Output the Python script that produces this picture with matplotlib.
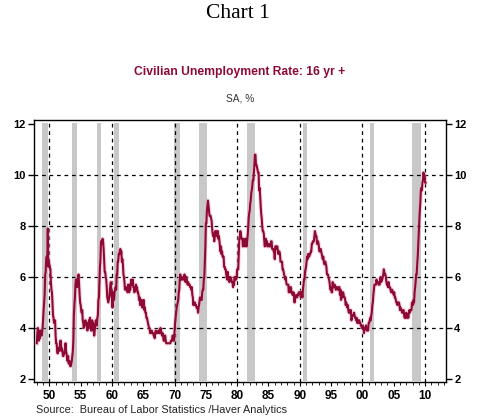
import numpy as np
import matplotlib
matplotlib.use("Agg")
import matplotlib.pyplot as plt
from matplotlib.ticker import MultipleLocator, FixedLocator

# monthly civilian unemployment rate, 16 yr +, SA, %
u_1948_49 = [3.4, 3.8, 4.0, 3.9, 3.5, 3.6, 3.6, 3.9, 3.8, 3.7, 3.8, 4.0,
             4.3, 4.7, 5.0, 5.3, 6.1, 6.2, 6.7, 6.8, 6.6, 7.9, 6.4, 6.6]
u_1950s = [6.5, 6.4, 6.3, 5.8, 5.5, 5.4, 5.0, 4.5, 4.4, 4.2, 4.2, 4.3,
           3.7, 3.4, 3.4, 3.1, 3.0, 3.2, 3.1, 3.1, 3.3, 3.5, 3.5, 3.1,
           3.2, 3.1, 2.9, 2.9, 3.0, 3.0, 3.2, 3.4, 3.1, 3.0, 2.8, 2.7,
           2.9, 2.6, 2.6, 2.7, 2.5, 2.5, 2.6, 2.7, 2.9, 3.1, 3.5, 4.5,
           4.9, 5.2, 5.7, 5.9, 5.9, 5.6, 5.8, 6.0, 6.1, 5.7, 5.3, 5.0,
           4.9, 4.7, 4.6, 4.7, 4.3, 4.2, 4.0, 4.2, 4.1, 4.3, 4.2, 4.2,
           4.0, 3.9, 4.2, 4.0, 4.3, 4.3, 4.4, 4.1, 3.9, 3.9, 4.3, 4.2,
           4.2, 3.9, 3.7, 3.9, 4.1, 4.3, 4.2, 4.1, 4.4, 4.5, 5.1, 5.2,
           5.8, 6.4, 6.7, 7.4, 7.4, 7.3, 7.5, 7.4, 7.1, 6.7, 6.2, 6.2,
           6.0, 5.9, 5.6, 5.2, 5.1, 5.0, 5.1, 5.2, 5.5, 5.7, 5.8, 5.3]
u_1960s = [5.2, 4.8, 5.4, 5.2, 5.1, 5.4, 5.5, 5.6, 5.5, 6.1, 6.1, 6.6,
           6.6, 6.9, 6.9, 7.0, 7.1, 6.9, 7.0, 6.6, 6.7, 6.5, 6.1, 6.0,
           5.8, 5.5, 5.6, 5.6, 5.5, 5.5, 5.4, 5.7, 5.6, 5.4, 5.7, 5.5,
           5.7, 5.9, 5.7, 5.7, 5.9, 5.6, 5.6, 5.4, 5.5, 5.5, 5.7, 5.5,
           5.6, 5.4, 5.4, 5.3, 5.1, 5.2, 4.9, 5.0, 5.1, 5.1, 4.8, 5.0,
           4.9, 5.1, 4.7, 4.8, 4.6, 4.6, 4.4, 4.4, 4.3, 4.2, 4.1, 4.0,
           4.0, 3.8, 3.8, 3.8, 3.9, 3.8, 3.8, 3.8, 3.7, 3.7, 3.6, 3.8,
           3.9, 3.8, 3.8, 3.8, 3.8, 3.9, 3.8, 3.8, 3.8, 4.0, 3.9, 3.8,
           3.7, 3.8, 3.7, 3.5, 3.5, 3.7, 3.7, 3.5, 3.4, 3.4, 3.4, 3.4,
           3.4, 3.4, 3.4, 3.4, 3.4, 3.5, 3.5, 3.5, 3.7, 3.7, 3.5, 3.5]
u_1970s = [3.9, 4.2, 4.4, 4.6, 4.8, 4.9, 5.0, 5.1, 5.4, 5.5, 5.9, 6.1,
           5.9, 5.9, 6.0, 5.9, 5.9, 5.9, 6.0, 6.1, 6.0, 5.8, 6.0, 6.0,
           5.8, 5.7, 5.8, 5.7, 5.7, 5.7, 5.6, 5.6, 5.5, 5.6, 5.3, 5.2,
           4.9, 5.0, 4.9, 5.0, 4.9, 4.9, 4.8, 4.8, 4.8, 4.6, 4.8, 4.9,
           5.1, 5.2, 5.1, 5.1, 5.1, 5.4, 5.5, 5.5, 5.9, 6.0, 6.6, 7.2,
           8.1, 8.1, 8.6, 8.8, 9.0, 8.8, 8.6, 8.4, 8.4, 8.4, 8.3, 8.2,
           7.9, 7.7, 7.6, 7.7, 7.4, 7.6, 7.8, 7.8, 7.6, 7.7, 7.8, 7.8,
           7.5, 7.6, 7.4, 7.2, 7.0, 7.2, 6.9, 7.0, 6.8, 6.8, 6.8, 6.4,
           6.4, 6.3, 6.3, 6.1, 6.0, 5.9, 6.2, 5.9, 6.0, 5.8, 5.9, 6.0,
           5.9, 5.9, 5.8, 5.8, 5.6, 5.7, 5.7, 6.0, 5.9, 6.0, 5.9, 6.0]
u_1980s = [6.3, 6.3, 6.3, 6.9, 7.5, 7.6, 7.8, 7.7, 7.5, 7.5, 7.5, 7.2,
           7.5, 7.4, 7.4, 7.2, 7.5, 7.5, 7.2, 7.4, 7.6, 7.9, 8.3, 8.5,
           8.6, 8.9, 9.0, 9.3, 9.4, 9.6, 9.8, 9.8, 10.1, 10.4, 10.8, 10.8,
           10.4, 10.4, 10.3, 10.2, 10.1, 10.1, 9.4, 9.5, 9.2, 8.8, 8.5, 8.3,
           8.0, 7.8, 7.8, 7.7, 7.4, 7.2, 7.5, 7.5, 7.3, 7.4, 7.2, 7.3,
           7.3, 7.2, 7.2, 7.3, 7.2, 7.4, 7.4, 7.1, 7.1, 7.1, 7.0, 7.0,
           6.7, 7.2, 7.2, 7.1, 7.2, 7.2, 7.0, 6.9, 7.0, 7.0, 6.9, 6.6,
           6.6, 6.6, 6.6, 6.3, 6.3, 6.2, 6.1, 6.0, 5.9, 6.0, 5.8, 5.7,
           5.7, 5.7, 5.7, 5.4, 5.6, 5.4, 5.4, 5.6, 5.4, 5.4, 5.3, 5.3,
           5.4, 5.2, 5.0, 5.2, 5.2, 5.3, 5.2, 5.2, 5.3, 5.3, 5.4, 5.4]
u_1990s = [5.4, 5.3, 5.2, 5.4, 5.4, 5.2, 5.5, 5.7, 5.9, 5.9, 6.2, 6.3,
           6.4, 6.6, 6.8, 6.7, 6.9, 6.9, 6.8, 6.9, 6.9, 7.0, 7.0, 7.3,
           7.3, 7.4, 7.4, 7.4, 7.6, 7.8, 7.7, 7.6, 7.6, 7.3, 7.4, 7.4,
           7.3, 7.1, 7.0, 7.1, 7.1, 7.0, 6.9, 6.8, 6.7, 6.8, 6.6, 6.5,
           6.6, 6.6, 6.5, 6.4, 6.1, 6.1, 6.1, 6.0, 5.9, 5.8, 5.6, 5.5,
           5.6, 5.4, 5.4, 5.8, 5.6, 5.6, 5.7, 5.7, 5.6, 5.5, 5.6, 5.6,
           5.6, 5.5, 5.5, 5.6, 5.6, 5.3, 5.5, 5.1, 5.2, 5.2, 5.4, 5.4,
           5.3, 5.2, 5.2, 5.1, 4.9, 5.0, 4.9, 4.8, 4.9, 4.7, 4.6, 4.7,
           4.6, 4.6, 4.7, 4.3, 4.4, 4.5, 4.5, 4.5, 4.6, 4.5, 4.4, 4.4,
           4.3, 4.4, 4.2, 4.3, 4.2, 4.3, 4.3, 4.2, 4.2, 4.1, 4.1, 4.0]
u_2000s = [4.0, 4.1, 4.0, 3.8, 4.0, 4.0, 4.0, 4.1, 3.9, 3.9, 3.9, 3.9,
           4.2, 4.2, 4.3, 4.4, 4.3, 4.5, 4.6, 4.9, 5.0, 5.3, 5.5, 5.7,
           5.7, 5.7, 5.7, 5.9, 5.8, 5.8, 5.8, 5.7, 5.7, 5.7, 5.9, 6.0,
           5.8, 5.9, 5.9, 6.0, 6.1, 6.3, 6.2, 6.1, 6.1, 6.0, 5.8, 5.7,
           5.7, 5.6, 5.8, 5.6, 5.6, 5.6, 5.5, 5.4, 5.4, 5.5, 5.4, 5.4,
           5.3, 5.4, 5.2, 5.2, 5.1, 5.0, 5.0, 4.9, 5.0, 5.0, 5.0, 4.9,
           4.7, 4.8, 4.7, 4.7, 4.6, 4.6, 4.7, 4.7, 4.5, 4.4, 4.5, 4.4,
           4.6, 4.5, 4.4, 4.5, 4.4, 4.6, 4.7, 4.6, 4.7, 4.7, 4.7, 5.0,
           5.0, 4.9, 5.1, 5.0, 5.4, 5.6, 5.8, 6.1, 6.1, 6.5, 6.8, 7.3,
           7.7, 8.2, 8.6, 8.9, 9.4, 9.5, 9.4, 9.7, 9.8, 10.1, 10.0, 10.0]
u_2010 = [9.7, 9.7]

# NBER recessions (shaded)
rec_start = [1948.9, 1953.6, 1957.65, 1960.35, 1969.95, 1973.85, 1981.55, 1990.55, 2001.2, 2007.95]
rec_end = [1949.75, 1954.35, 1958.3, 1961.1, 1970.85, 1975.2, 1982.9, 1991.2, 2001.85, 2009.3]

year_labels = ["50", "55", "60", "65", "70", "75", "80", "85", "90", "95", "00", "05", "10"]

rate = np.array(u_1948_49 + u_1950s + u_1960s + u_1970s + u_1980s + u_1990s + u_2000s + u_2010)
dates = 1948 + np.arange(len(rate)) / 12.0

crimson = "#8c0a34"
plt.rcParams["font.family"] = ["Liberation Sans", "DejaVu Sans"]

fig = plt.figure(figsize=(4.83, 4.19), dpi=100)
ax = fig.add_axes([0.0704, 0.0883, 0.853, 0.6253])

for s, e in zip(rec_start, rec_end):
    ax.axvspan(s, e, ymin=0.004, ymax=0.988, color="#c8c8c8", lw=0, zorder=1)

for y in [4, 6, 8, 10]:
    ax.axhline(y, color="black", ls=(0, (3, 3)), lw=0.9, zorder=2)
for x in range(1950, 2011, 10):
    ax.axvline(x, color="black", ls=(0, (3, 3)), lw=0.9, zorder=2)

ax.plot(dates, rate, color="#f2a6bd", lw=3.0, alpha=0.5, zorder=3)
ax.plot(dates, rate, color=crimson, lw=1.5, zorder=4)

ax.set_xlim(1947.55, 2013.35)
ax.set_ylim(1.88, 12.16)

ax.yaxis.set_major_locator(FixedLocator([2, 4, 6, 8, 10, 12]))
ax.xaxis.set_minor_locator(MultipleLocator(1))
ax.set_xticks(range(1950, 2011, 5))
ax.set_xticklabels(year_labels)
ax.tick_params(axis="y", direction="out", length=4, width=1, left=True, right=True,
               labelleft=True, labelright=True, labelsize=8, pad=2)
ax.tick_params(axis="x", which="major", direction="out", length=3, width=0.8, labelsize=8.5, pad=2.5)
ax.tick_params(axis="x", which="minor", direction="out", length=2, width=0.6)
for lab in ax.get_xticklabels():
    lab.set_fontweight("bold")
for t in ax.yaxis.get_major_ticks():
    t.label1.set_fontweight("bold")
    t.label2.set_fontweight("bold")
for sp in ax.spines.values():
    sp.set_linewidth(1.0)

fig.text(0.493, 0.967, "Chart 1", ha="center", va="center",
         fontsize=15.5, family="Liberation Serif")
fig.text(0.497, 0.828, "Civilian Unemployment Rate: 16 yr +", ha="center", va="center",
         fontsize=8.7, fontweight="bold", color=crimson)
fig.text(0.497, 0.765, "SA, %", ha="center", va="center", fontsize=7.3, color="#333333")
fig.text(0.075, 0.022, "Source:  Bureau of Labor Statistics /Haver Analytics",
         ha="left", va="center", fontsize=7.8, color="#222222")

fig.savefig("out.png", dpi=100)
